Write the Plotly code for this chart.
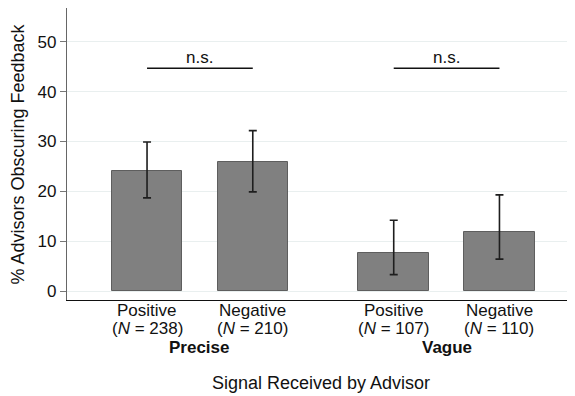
import plotly.graph_objects as go

# ---- data ----
categories = ["Positive", "Negative", "Positive", "Negative"]
n_labels = ["238", "210", "107", "110"]
groups = ["Precise", "Vague"]
x_pos = [1, 2, 3.333, 4.333]
values = [24.0, 25.8, 7.6, 11.8]
ci_upper = [29.9, 32.2, 14.2, 19.3]
ci_lower = [18.7, 19.9, 3.3, 6.4]
sig_labels = ["n.s.", "n.s."]
sig_pairs = [(0, 1), (2, 3)]
sig_level = [44.7, 44.7]
y_ticks = [0, 10, 20, 30, 40, 50]

FONT = "Liberation Sans, Arial, Helvetica, sans-serif"

err_plus = [u - v for u, v in zip(ci_upper, values)]
err_minus = [v - l for v, l in zip(values, ci_lower)]

fig = go.Figure()
fig.add_trace(go.Bar(
    x=x_pos, y=values, width=0.667,
    marker=dict(color="#808080", line=dict(color="#5e5e5e", width=1)),
    error_y=dict(type="data", symmetric=False, array=err_plus, arrayminus=err_minus,
                 color="#1e1e1e", thickness=1.6, width=4),
    showlegend=False, hoverinfo="skip",
))

annotations = []
shapes = []
# significance brackets
for (a, b), lvl, lab in zip(sig_pairs, sig_level, sig_labels):
    shapes.append(dict(type="line", xref="x", yref="y", x0=x_pos[a], x1=x_pos[b],
                       y0=lvl, y1=lvl, line=dict(color="#111111", width=1.5)))
    annotations.append(dict(x=(x_pos[a] + x_pos[b]) / 2, y=lvl, xref="x", yref="y",
                            text=lab, showarrow=False, yanchor="bottom", yshift=-1,
                            font=dict(family=FONT, size=17, color="#111111")))

# category labels (two lines)
for xp, cat, n in zip(x_pos, categories, n_labels):
    annotations.append(dict(x=xp, y=0, xref="x", yref="paper", text=cat,
                            showarrow=False, yanchor="middle", yshift=-10,
                            font=dict(family=FONT, size=17, color="#111111")))
    annotations.append(dict(x=xp, y=0, xref="x", yref="paper",
                            text="(<i>N</i> = " + n + ")",
                            showarrow=False, yanchor="middle", yshift=-28.5,
                            font=dict(family=FONT, size=17, color="#111111")))
# group labels
for g, (a, b) in zip(groups, sig_pairs):
    annotations.append(dict(x=(x_pos[a] + x_pos[b]) / 2, y=0, xref="x", yref="paper",
                            text="<b>" + g + "</b>", showarrow=False, yanchor="middle",
                            yshift=-47, font=dict(family=FONT, size=17, color="#111111")))
# x axis title
annotations.append(dict(x=0.5, y=0, xref="paper", yref="paper",
                        text="Signal Received by Advisor", showarrow=False,
                        yanchor="middle", yshift=-83,
                        font=dict(family=FONT, size=18, color="#111111")))
# y axis title
annotations.append(dict(x=0, y=0.5, xref="paper", yref="paper",
                        text="% Advisors Obscuring Feedback", showarrow=False,
                        textangle=-90, xanchor="center", yanchor="middle", xshift=-49.5,
                        font=dict(family=FONT, size=18, color="#111111")))

# page body has an 8px margin, so the figure is 8px smaller in each direction
fig.update_layout(
    width=567, height=388,
    margin=dict(l=59, r=1, t=0, b=96),
    paper_bgcolor="white", plot_bgcolor="white",
    font=dict(family=FONT, size=17, color="#111111"),
    annotations=annotations, shapes=shapes,
    xaxis=dict(range=[0.243, 5.038], showticklabels=False, ticks="",
               showgrid=False, zeroline=False, showline=True,
               linecolor="#111111", linewidth=1.3, fixedrange=True),
    yaxis=dict(range=[-1.8, 56.8], tickvals=y_ticks, ticks="outside", ticklen=6,
               tickcolor="#777777", tickwidth=1, showgrid=True, gridcolor="#e9efef",
               gridwidth=1, zeroline=False, showline=True, linecolor="#666666",
               linewidth=1.3, tickfont=dict(family=FONT, size=17, color="#111111"),
               fixedrange=True),
    bargap=0,
)

fig.write_html("out.html")
